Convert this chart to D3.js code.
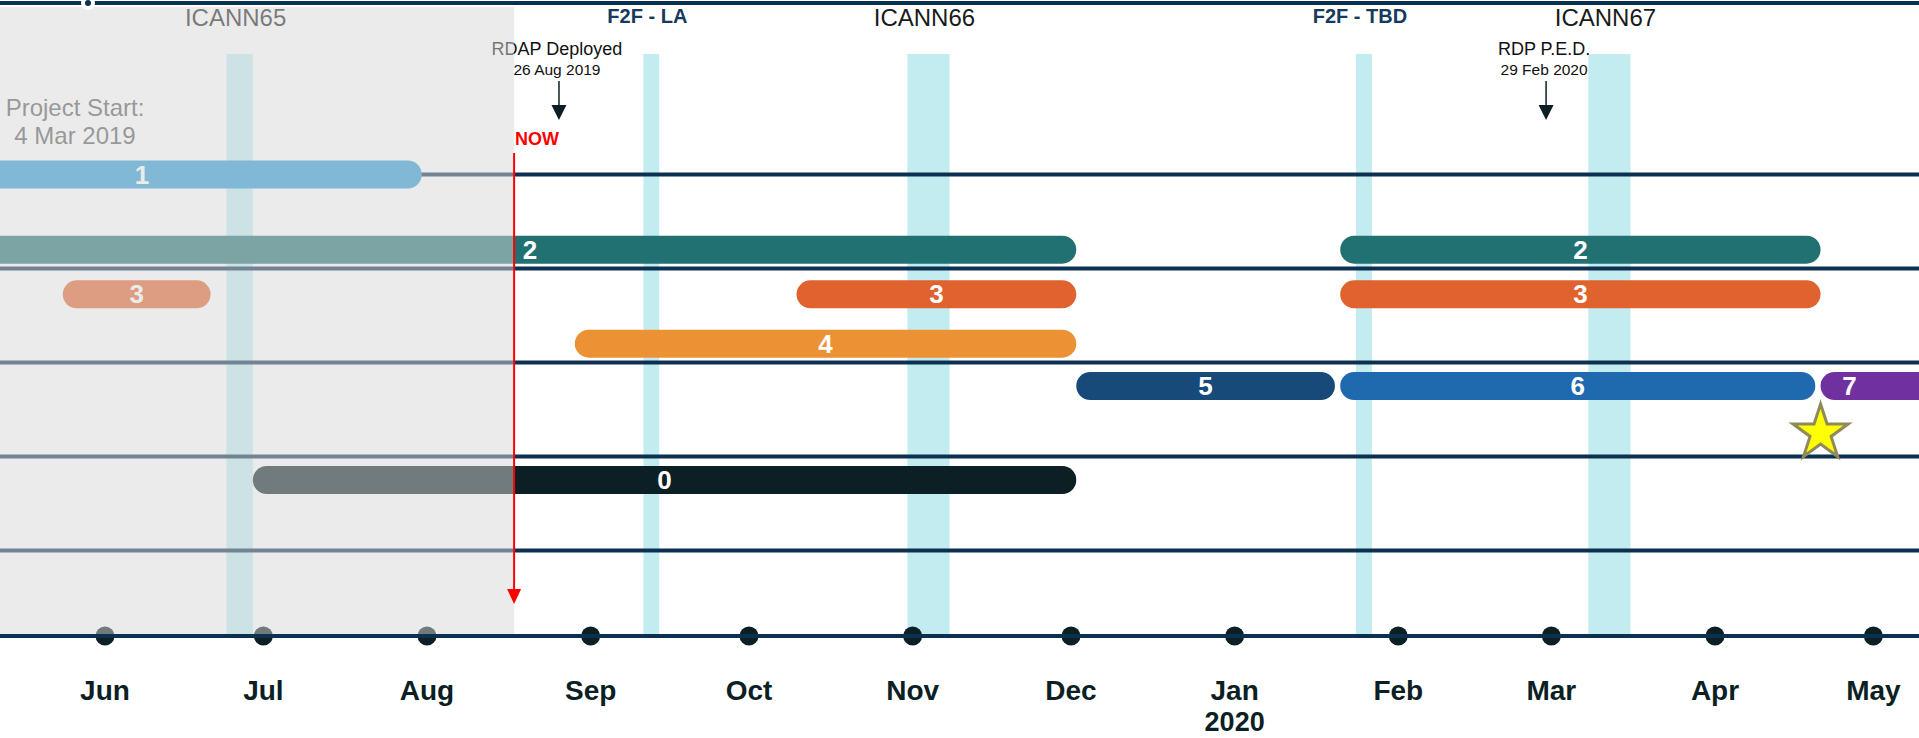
<!DOCTYPE html>
<html lang="en">
<head>
<meta charset="UTF-8"/>
<title>RDAP project timeline</title>
<script src="https://cdnjs.cloudflare.com/ajax/libs/d3/7.8.5/d3.min.js"></script>
<style>
  body { margin: 0; background: #fff; overflow: hidden; }
  svg { display: block; font-family: "Liberation Sans", Arial, sans-serif; }
</style>
</head>
<body>
<script>
var W = 1919, H = 738;
var parse = d3.timeParse("%Y-%m-%d");

// month ticks on the bottom axis
var monthTicks = ["2019-06-01", "2019-07-01", "2019-08-01", "2019-09-01", "2019-10-01", "2019-11-01",
                  "2019-12-01", "2020-01-01", "2020-02-01", "2020-03-01", "2020-04-01", "2020-05-01"];
var monthLabels = ["Jun", "Jul", "Aug", "Sep", "Oct", "Nov", "Dec", "Jan", "Feb", "Mar", "Apr", "May"];

// task bars (lane = track row)
var taskLabels = ["1", "2", "3", "3", "4", "0", "5", "2", "3", "6", "7"];
var taskStarts = ["2019-04-16", "2019-05-09", "2019-05-24", "2019-10-10", "2019-08-29", "2019-06-29",
                  "2019-12-02", "2020-01-21", "2020-01-21", "2020-01-21", "2020-04-21"];
var taskEnds   = ["2019-07-31", "2019-12-02", "2019-06-21", "2019-12-02", "2019-12-02", "2019-12-02",
                  "2020-01-20", "2020-04-21", "2020-04-21", "2020-04-20", "2020-06-30"];
var taskLanes  = [-0.5, 1.1, 2.05, 2.05, 3.1, 6, 4, 1.1, 2.05, 4, 4];

// separators between the work streams
var laneLines = [-0.5, 1.5, 3.5, 5.5, 7.5];

// meetings
var meetingNames  = ["ICANN65", "F2F - LA", "ICANN66", "F2F - TBD", "ICANN67"];
var meetingKinds  = ["icann", "f2f", "icann", "f2f", "icann"];
var meetingStarts = ["2019-06-24", "2019-09-11", "2019-10-31", "2020-01-24", "2020-03-08"];
var meetingEnds   = ["2019-06-29", "2019-09-14", "2019-11-08", "2020-01-27", "2020-03-16"];

// milestones
var milestoneNames = ["RDAP Deployed", "RDP P.E.D."];
var milestoneDates = ["2019-08-26", "2020-02-29"];
var milestoneDateLabels = ["26 Aug 2019", "29 Feb 2020"];

var projectStart = ["Project Start:", "4 Mar 2019"];
var nowDate = new Date(2019, 7, 17, 12);
var starDate = "2020-04-21", starLane = 5;

var barColor = d3.scaleOrdinal()
  .domain(["0", "1", "2", "3", "4", "5", "6", "7"])
  .range(["#0b1f25", "#2999d5", "#217172", "#e0622e", "#ec9234", "#174a78", "#1f6aae", "#7030a0"]);

var navy = "#0c3150";

var x = d3.scaleTime()
  .domain([new Date(2019, 5, 1), new Date(2020, 3, 1)])
  .range([105, 1715]);
var y = d3.scaleLinear().domain([-0.5, 7.5]).range([174.5, 550.5]);
var axisY = 636;

var svg = d3.select("body").append("svg")
  .attr("width", W).attr("height", H);

// meeting bands
var meetings = meetingNames.map(function(n, i) {
  return {name: n, kind: meetingKinds[i], s: parse(meetingStarts[i]), e: parse(meetingEnds[i])};
});
svg.append("g").selectAll("rect").data(meetings).enter().append("rect")
  .attr("x", function(d) { return x(d.s); })
  .attr("width", function(d) { return x(d.e) - x(d.s); })
  .attr("y", 54).attr("height", axisY - 54)
  .attr("fill", "#c2ecf0");
svg.append("g").selectAll("text").data(meetings).enter().append("text")
  .attr("x", function(d) { return (x(d.s) + x(d.e)) / 2 - 4; })
  .attr("y", function(d) { return d.kind == "icann" ? 26 : 23; })
  .attr("text-anchor", "middle")
  .attr("font-size", function(d) { return d.kind == "icann" ? 24 : 20; })
  .attr("font-weight", function(d) { return d.kind == "icann" ? "normal" : "bold"; })
  .attr("fill", function(d) { return d.kind == "icann" ? "#1a1a1a" : "#163a5c"; })
  .text(function(d) { return d.name; });

// separator lines
svg.append("g").selectAll("line").data(laneLines).enter().append("line")
  .attr("x1", 0).attr("x2", W)
  .attr("y1", function(d) { return y(d); }).attr("y2", function(d) { return y(d); })
  .attr("stroke", navy).attr("stroke-width", 4);

// bars
var tasks = taskLabels.map(function(l, i) {
  return {label: l, s: parse(taskStarts[i]), e: parse(taskEnds[i]), lane: taskLanes[i]};
});
var bars = svg.append("g").selectAll("g").data(tasks).enter().append("g");
bars.append("rect")
  .attr("x", function(d) { return x(d.s); })
  .attr("width", function(d) { return x(d.e) - x(d.s); })
  .attr("y", function(d) { return y(d.lane) - 14; })
  .attr("height", 28).attr("rx", 14)
  .attr("fill", function(d) { return barColor(d.label); });
bars.append("text")
  .attr("x", function(d) {
    // bars running off the right edge get their number near the start
    return x(d.e) > W ? x(d.s) + 29 : (x(d.s) + x(d.e)) / 2;
  })
  .attr("y", function(d) { return y(d.lane) + 9; })
  .attr("text-anchor", "middle")
  .attr("font-size", 26).attr("font-weight", "bold")
  .attr("fill", "#fff")
  .text(function(d) { return d.label; });

// star
svg.append("path")
  .attr("d", d3.symbol().type(d3.symbolStar).size(944)())
  .attr("transform", "translate(" + x(parse(starDate)) + "," + y(starLane) + ")")
  .attr("fill", "#ffff00").attr("stroke", "#8f8a5a").attr("stroke-width", 3);

// month dots
var months = monthTicks.map(parse);
svg.append("g").selectAll("circle").data(months).enter().append("circle")
  .attr("cx", function(d) { return x(d); }).attr("cy", axisY)
  .attr("r", 9.5).attr("fill", "#0b1f25");

// milestones
var ms = milestoneNames.map(function(n, i) {
  return {name: n, d: parse(milestoneDates[i]), dl: milestoneDateLabels[i]};
});
var mg = svg.append("g").selectAll("g").data(ms).enter().append("g")
  .attr("transform", function(d) { return "translate(" + x(d.d) + ",0)"; });
mg.append("text").attr("x", -2).attr("y", 55).attr("text-anchor", "middle")
  .attr("font-size", 18).attr("fill", "#111").text(function(d) { return d.name; });
mg.append("text").attr("x", -2).attr("y", 75).attr("text-anchor", "middle")
  .attr("font-size", 15.5).attr("fill", "#111").text(function(d) { return d.dl; });
mg.append("line").attr("x1", 0).attr("x2", 0).attr("y1", 81).attr("y2", 107)
  .attr("stroke", "#0b1f25").attr("stroke-width", 1.5);
mg.append("path").attr("d", "M-7.5,105 L7.5,105 L0,120 Z").attr("fill", "#0b1f25");

// project start note
svg.append("g").selectAll("text").data(projectStart).enter().append("text")
  .attr("x", 75).attr("y", function(d, i) { return 116 + i * 28; })
  .attr("text-anchor", "middle").attr("font-size", 24).attr("fill", "#595959")
  .text(function(d) { return d; });

// past overlay
svg.append("rect")
  .attr("x", 0).attr("y", 7)
  .attr("width", x(nowDate)).attr("height", axisY - 2 - 7)
  .attr("fill", "rgb(215,215,215)").attr("opacity", 0.5);

// axis line
svg.append("line").attr("x1", 0).attr("x2", W).attr("y1", axisY).attr("y2", axisY)
  .attr("stroke", navy).attr("stroke-width", 4);
svg.selectAll(".mlab").data(months).enter().append("text")
  .attr("class", "mlab")
  .attr("x", function(d) { return x(d); }).attr("y", 700)
  .attr("text-anchor", "middle").attr("font-size", 28).attr("font-weight", "bold")
  .attr("fill", "#0b1f25")
  .text(function(d, i) { return monthLabels[i]; });
svg.append("text").attr("x", x(parse("2020-01-01"))).attr("y", 731)
  .attr("text-anchor", "middle").attr("font-size", 27).attr("font-weight", "bold")
  .attr("fill", "#0b1f25").text("2020");

// top rule
svg.append("line").attr("x1", 0).attr("x2", W).attr("y1", 3).attr("y2", 3)
  .attr("stroke", navy).attr("stroke-width", 4);
svg.append("circle").attr("cx", 88).attr("cy", 3).attr("r", 5)
  .attr("fill", navy).attr("stroke", "#fff").attr("stroke-width", 4);

// NOW marker
var nx = x(nowDate);
svg.append("line").attr("x1", nx).attr("x2", nx).attr("y1", 153).attr("y2", 592)
  .attr("stroke", "#ff0000").attr("stroke-width", 2);
svg.append("path").attr("d", "M" + (nx - 7) + ",589 L" + (nx + 7) + ",589 L" + nx + ",604 Z")
  .attr("fill", "#ff0000");
svg.append("text").attr("x", nx + 1).attr("y", 145)
  .attr("font-size", 18).attr("font-weight", "bold").attr("fill", "#ff0000").text("NOW");
</script>
</body>
</html>
